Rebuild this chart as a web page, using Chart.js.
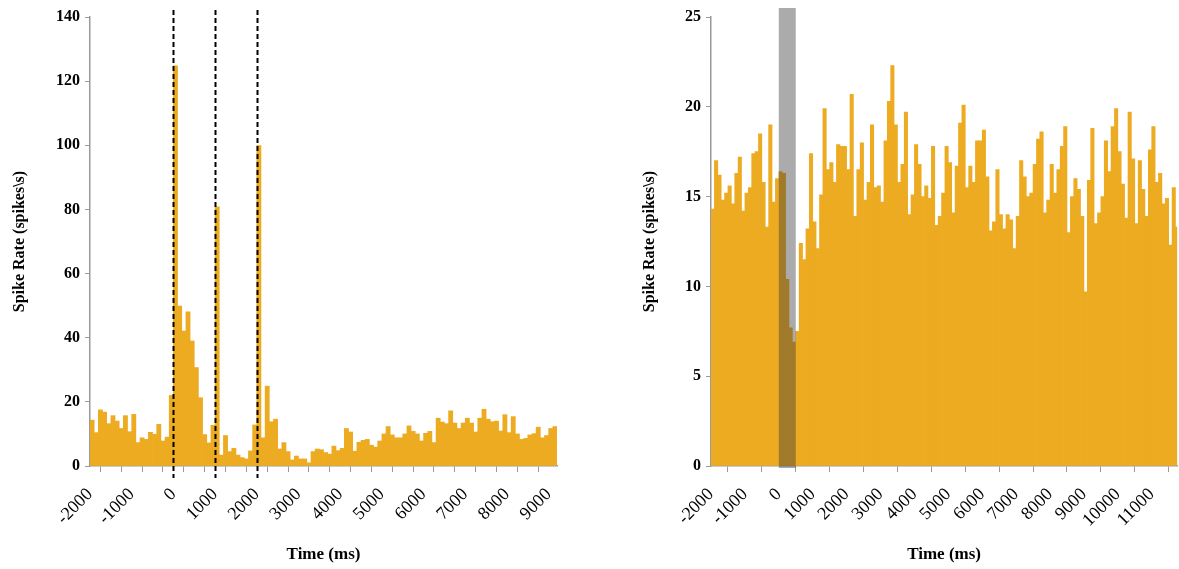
<!DOCTYPE html>
<html>
<head>
<meta charset="utf-8">
<script src="https://cdn.jsdelivr.net/npm/chart.js@4.4.0/dist/chart.umd.min.js"></script>
<style>
  html, body { margin: 0; padding: 0; background: #fff; overflow: hidden; }
  #wrap { position: relative; width: 1179px; height: 569px; }
  canvas { position: absolute; top: 0; }
  #c1 { left: 0; }
  #c2 { left: 590px; }
</style>
</head>
<body>
<div id="wrap">
  <canvas id="c1" width="590" height="569"></canvas>
  <canvas id="c2" width="589" height="569"></canvas>
</div>
<script>
// --- data (100 ms bins, values in spikes/s) ---
const binWidth = 100;

const leftStart = -2000;
const leftEnd = 9200;
const leftRates = [
  14.3, 10.4, 17.5, 16.8, 13.2, 15.7, 14.0, 11.7, 15.7, 10.7,
  16.1, 7.3, 8.8, 8.3, 10.5, 9.9, 13.0, 7.8, 9.0, 22.0,
  124.8, 49.9, 42.1, 48.1, 39.0, 30.7, 21.3, 9.8, 7.2, 12.7,
  80.8, 3.4, 9.5, 4.5, 5.5, 3.4, 2.6, 2.2, 4.7, 12.8,
  99.9, 8.8, 24.9, 13.8, 14.6, 5.3, 7.3, 4.5, 1.9, 3.1,
  2.2, 2.2, 1.0, 4.5, 5.3, 5.1, 4.2, 3.7, 6.2, 4.8,
  5.5, 11.7, 10.6, 4.6, 7.4, 8.0, 8.3, 6.5, 5.9, 7.8,
  10.0, 12.3, 9.7, 8.8, 8.8, 10.0, 12.5, 10.8, 10.0, 7.8,
  10.2, 10.8, 7.3, 14.9, 13.7, 13.2, 17.2, 13.4, 11.7, 13.4,
  14.9, 13.4, 10.6, 14.9, 17.7, 14.6, 13.8, 14.0, 10.9, 16.0,
  10.4, 15.4, 10.0, 8.3, 8.6, 9.7, 10.1, 12.1, 8.8, 9.5,
  11.7, 12.3
];
const leftTickLabels = [-2000, -1000, 0, 1000, 2000, 3000, 4000, 5000, 6000, 7000, 8000, 9000];
const leftYTicks = [0, 20, 40, 60, 80, 100, 120, 140];
const eventTimes = [0, 1000, 2000];

const rightStart = -2000;
const rightEnd = 11750;
const rightRates = [
  14.3, 17.0, 16.2, 14.8, 15.2, 15.6, 14.6, 16.3, 17.2, 14.2,
  15.2, 15.5, 17.4, 17.5, 18.5, 15.8, 13.3, 19.0, 14.7, 16.0,
  16.4, 16.3, 10.4, 7.7, 6.9, 7.5, 12.4, 11.5, 13.2, 17.4,
  13.6, 12.1, 15.1, 19.9, 16.5, 16.9, 15.8, 17.9, 17.8, 17.8,
  16.5, 20.7, 13.9, 16.5, 18.0, 14.8, 15.8, 19.0, 15.5, 15.6,
  14.7, 18.1, 20.3, 22.3, 19.0, 15.8, 16.8, 19.7, 14.0, 15.1,
  17.9, 16.8, 15.0, 15.6, 14.9, 17.8, 13.4, 13.9, 15.2, 17.8,
  16.9, 14.1, 16.7, 19.1, 20.1, 15.5, 16.7, 15.8, 18.1, 18.1,
  18.7, 16.1, 13.1, 13.6, 16.5, 14.0, 13.2, 14.0, 13.7, 12.1,
  13.9, 17.0, 16.1, 15.0, 15.2, 16.8, 18.2, 18.6, 14.1, 14.8,
  16.8, 15.2, 16.5, 17.8, 18.9, 13.0, 15.0, 16.0, 15.4, 13.9,
  9.7, 15.9, 18.8, 13.5, 14.1, 15.0, 18.1, 16.4, 18.9, 19.9,
  17.5, 15.7, 13.8, 19.7, 17.1, 13.5, 17.0, 15.4, 13.9, 17.6,
  18.9, 15.8, 16.3, 14.6, 14.9, 12.3, 15.5, 13.3
];
const rightTickLabels = [-2000, -1000, 0, 1000, 2000, 3000, 4000, 5000, 6000, 7000, 8000, 9000, 10000, 11000];
const rightYTicks = [0, 5, 10, 15, 20, 25];
const stimWindow = [0, 500];

// --- styling ---
const BAR = '#ECAB21';
const AXIS = '#9a9a9a';
const SERIF = "'Liberation Serif', 'Times New Roman', serif";

// bin centres from the bin start + width
function toPoints(start, rates) {
  return rates.map((r, i) => ({ x: start + i * binWidth + binWidth / 2, y: r }));
}

// tick marks between first and last label, every `step`
function tickValues(labels, step) {
  const out = [];
  for (let v = labels[0]; v <= labels[labels.length - 1]; v += step) out.push({ value: v });
  return out;
}

// dashed event lines / shaded window drawn over the bars
const overlayPlugin = {
  id: 'overlay',
  afterDatasetsDraw(chart, args, opts) {
    const { ctx, chartArea } = chart;
    const xs = chart.scales.x;
    ctx.save();
    (opts.bands || []).forEach(([a, b]) => {
      const x0 = xs.getPixelForValue(a);
      const x1 = xs.getPixelForValue(b);
      ctx.fillStyle = 'rgba(55, 55, 55, 0.42)';
      ctx.fillRect(x0, chartArea.top - 9, x1 - x0, chartArea.bottom + 2 - (chartArea.top - 9));
    });
    (opts.lines || []).forEach((v) => {
      const px = Math.round(xs.getPixelForValue(v)) + 0.5;
      ctx.strokeStyle = '#000';
      ctx.lineWidth = 2;
      ctx.setLineDash([5, 3]);
      ctx.beginPath();
      ctx.moveTo(px, chartArea.top - 7);
      ctx.lineTo(px, chartArea.bottom + 12);
      ctx.stroke();
    });
    ctx.restore();
  },
};

function makeChart(canvas, cfg) {
  return new Chart(canvas.getContext('2d'), {
    type: 'bar',
    data: {
      datasets: [{
        data: toPoints(cfg.start, cfg.rates),
        backgroundColor: BAR,
        borderWidth: 0,
        barPercentage: 1,
        categoryPercentage: 1,
      }],
    },
    options: {
      responsive: false,
      animation: false,
      layout: { padding: { top: 17, right: cfg.padRight, left: 0, bottom: 0 } },
      plugins: {
        legend: { display: false },
        tooltip: { enabled: false },
        overlay: { lines: cfg.lines, bands: cfg.bands },
      },
      scales: {
        x: {
          type: 'linear',
          min: cfg.start,
          max: cfg.end,
          offset: false,
          afterBuildTicks(s) { s.ticks = tickValues(cfg.tickLabels, cfg.tickStep); },
          afterFit(s) { s.height = 103; },
          ticks: {
            autoSkip: false,
            minRotation: 45,
            maxRotation: 45,
            padding: 12,
            color: '#000',
            font: { family: SERIF, size: 18 },
            callback: (v) => (cfg.tickLabels.includes(v) ? String(v) : ''),
          },
          grid: { drawOnChartArea: false, drawTicks: true, tickLength: 6, color: AXIS },
          border: { display: true, color: AXIS, width: 1.5 },
          title: {
            display: true,
            text: 'Time (ms)',
            color: '#000',
            font: { family: SERIF, size: 17, weight: 'bold' },
            padding: { top: 0, bottom: 4 },
          },
        },
        y: {
          min: 0,
          max: cfg.yTicks[cfg.yTicks.length - 1],
          afterBuildTicks(s) { s.ticks = cfg.yTicks.map((v) => ({ value: v })); },
          afterFit(s) { s.width = cfg.yWidth; },
          ticks: {
            color: '#000',
            padding: 5,
            font: { family: SERIF, size: 16, weight: 'bold' },
          },
          grid: { drawOnChartArea: false, drawTicks: true, tickLength: 5, color: AXIS },
          border: { display: true, color: AXIS, width: 1.5 },
          title: {
            display: true,
            text: 'Spike Rate (spikes\\s)',
            color: '#000',
            font: { family: SERIF, size: 16, weight: 'bold' },
            padding: { top: cfg.titlePad, bottom: 0 },
          },
        },
      },
    },
    plugins: [overlayPlugin],
  });
}

makeChart(document.getElementById('c1'), {
  start: leftStart, end: leftEnd, rates: leftRates,
  tickStep: 500, tickLabels: leftTickLabels, yTicks: leftYTicks,
  yWidth: 90, padRight: 33, titlePad: 10,
  lines: eventTimes, bands: [],
});

makeChart(document.getElementById('c2'), {
  start: rightStart, end: rightEnd, rates: rightRates,
  tickStep: 1000, tickLabels: rightTickLabels, yTicks: rightYTicks,
  yWidth: 121, padRight: 0, titlePad: 50,
  lines: [], bands: [stimWindow],
});
</script>
</body>
</html>
